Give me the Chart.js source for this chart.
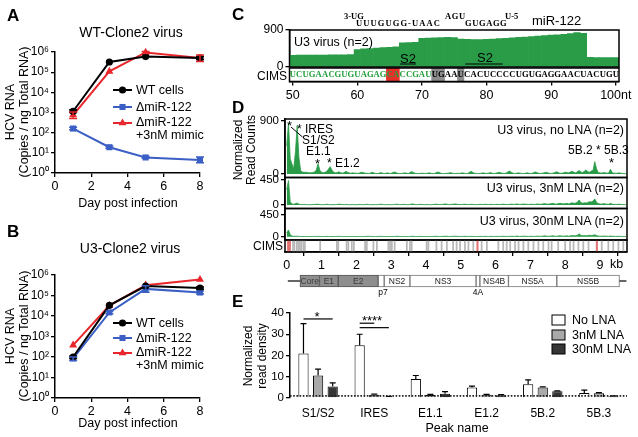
<!DOCTYPE html>
<html><head><meta charset="utf-8">
<script src="https://cdn.jsdelivr.net/npm/chart.js@4.4.1/dist/chart.umd.min.js"></script>
<style>
html,body{margin:0;padding:0;background:#fff}
body{position:relative;width:638px;height:437px;overflow:hidden;font-family:"Liberation Sans",Arial,Helvetica,sans-serif}
canvas{position:absolute;left:0;top:0}
.t{position:absolute;white-space:nowrap;line-height:1;color:#000}
</style></head><body>
<script>
// ================= DATA =================
// Panels A / B : HCV RNA (copies / ng total RNA) vs day post infection
const days = [1, 3, 5, 8];
const dayTicks = [0, 2, 4, 6, 8];
const logTickVals = [1, 10, 100, 1000, 10000, 100000, 1000000];
const logTickLabels = ['10⁰', '10¹', '10²', '10³', '10⁴', '10⁵', '10⁶'];
const seriesNames = ['WT cells', 'ΔmiR-122', 'ΔmiR-122', '+3nM mimic'];

const wtClone2_WT    = [1150, 320000, 590000, 500000];
const wtClone2_dMiR  = [160, 19, 5.9, 4.4];
const wtClone2_mimic = [750, 110000, 950000, 500000];
const wtClone2_WT_err    = [[1000, 1350], null, null, [420000, 600000]];
const wtClone2_dMiR_err  = [[140, 185], [17, 22], [5.4, 6.5], [3.2, 6.2]];
const wtClone2_mimic_err = [[500, 1050], null, [850000, 1050000], [340000, 720000]];

const u3Clone2_WT    = [100, 33000, 290000, 230000];
const u3Clone2_dMiR  = [85, 15000, 210000, 140000];
const u3Clone2_mimic = [380, 32000, 320000, 600000];
const u3Clone2_WT_err    = [[85, 110], null, null, [200000, 260000]];
const u3Clone2_dMiR_err  = [[68, 100], [13000, 17500], [145000, 300000], [120000, 165000]];
const u3Clone2_mimic_err = [null, null, null, null];

// Panel C : read coverage over nt 50-100 and CIMS sequence
const cNt = [50,51,52,53,54,55,56,57,58,59,60,61,62,63,64,65,66,67,68,69,70,71,72,73,74,75,76,77,78,79,80,81,82,83,84,85,86,87,88,89,90,91,92,93,94,95,96,97,98,99,100];
const cCoverage = [285,287,288,290,290,292,294,296,298,300,
                   425,440,450,460,470,480,490,585,592,600,
                   700,705,712,718,720,716,680,672,668,670,
                   675,682,690,700,710,720,730,740,752,765,
                   775,785,795,810,840,820,235,230,228,228,228];
const cSeq = 'UCUGAACGUGUAGAGCACCGAUUGAAUCACUCCCCUGUGAGGAACUACUGU';
const cRedBoxes = [[64.5, 66.5]];
const cGrayBoxes = [[71.5, 73.5], [75.5, 76.5]];
const cTickVals = [50, 60, 70, 80, 90, 100];
const cTickLabels = ['50', '60', '70', '80', '90', '100nt'];
const cYTicks = [0, 900];

// Panel D : normalized read counts along the genome, 0.05 kb bins from 0 kb
const BIN_KB = 0.05;
const trackNoLNA = [
 480,870,260,170,90,380,820,280,55,35,28,32,24,20,22,26,35,70,175,65,
 30,22,28,45,85,125,65,28,20,24,40,22,15,24,45,30,18,14,20,15,
 15,10,20,30,25,15,12,10,15,30,20,10,8,12,25,15,10,12,20,10,
 12,25,35,20,10,8,10,15,20,12,10,30,40,20,12,10,8,12,15,10,
 10,15,20,12,8,10,25,35,20,10,8,10,12,15,25,15,10,8,12,10,
 15,20,12,8,10,30,45,25,12,10,8,10,15,20,12,10,15,25,15,10,
 12,20,30,20,12,10,15,35,50,30,15,10,12,20,15,10,8,12,20,15,
 10,12,25,35,20,12,10,15,20,30,20,12,10,15,25,40,25,15,12,20,
 30,25,20,35,45,30,20,40,60,35,25,45,70,40,30,50,60,210,90,25,
 20,15,25,20,15,18,80,25,15,12,15,20,12,10,8,5];
const track3nM = [
 280,440,60,20,12,25,35,15,8,6,8,10,6,5,6,8,10,12,15,8,
 6,5,8,12,10,6,5,8,6,10,15,12,8,6,10,8,5,6,8,5,
 5,8,10,6,5,8,12,10,6,5,8,6,5,10,15,10,6,5,8,6,
 5,6,10,15,10,6,8,12,8,5,6,10,20,15,8,6,10,12,8,6,
 8,10,6,5,8,12,15,10,8,10,12,20,15,10,8,12,15,20,12,10,
 8,10,15,12,8,10,12,10,8,6,8,12,10,8,15,10,8,12,10,8,
 10,12,8,10,15,12,10,8,12,15,12,10,20,15,10,12,18,15,12,10,
 12,15,10,12,20,15,12,18,25,20,15,20,25,30,20,15,25,30,25,20,
 25,30,20,30,40,30,35,50,90,45,30,40,35,45,60,55,70,110,50,25,
 20,15,25,20,15,12,30,15,12,10,12,15,10,8,6,5];
const track30nM = [
 80,140,40,15,8,10,12,6,5,4,5,6,5,4,3,5,6,5,8,5,
 4,3,5,8,6,4,3,5,4,6,8,6,4,3,5,4,3,5,6,4,
 3,5,6,4,3,5,8,10,6,4,5,4,3,6,10,6,4,3,5,4,
 3,4,6,10,8,5,4,6,5,3,4,6,10,8,5,4,6,8,5,4,
 5,6,4,3,5,8,10,6,5,6,8,12,10,6,5,8,10,12,8,6,
 5,6,10,8,5,6,8,6,5,4,5,8,6,5,10,6,5,8,6,5,
 6,8,5,6,10,8,6,5,8,10,8,6,15,10,6,8,12,10,8,6,
 8,10,6,8,12,10,8,12,18,15,10,12,15,20,12,10,15,20,15,12,
 15,20,12,18,25,20,22,30,60,30,20,25,20,25,30,25,30,40,25,15,
 12,10,15,12,10,8,15,10,8,6,8,10,6,5,4,3];
const cimsGrayKb = [0.18,0.22,0.29,0.33,0.38,0.42,0.48,0.52,0.96,1.44,1.48,1.72,1.77,1.87,1.93,2.25,2.30,2.49,2.59,2.92,2.97,3.02,3.10,3.45,3.54,3.59,4.02,4.07,4.30,4.45,4.60,4.78,4.88,4.98,5.12,5.22,5.36,5.60,5.75,6.08,6.22,6.32,6.42,6.56,6.66,6.80,6.94,7.09,7.23,7.37,7.52,7.61,7.80,8.00,8.14,8.24,8.38,8.52,8.67,9.05,9.24,9.38,9.53,9.67];
const cimsRedKb = [0.04, 0.09, 5.48, 8.91];
const kbTicks = [0,1,2,3,4,5,6,7,8,9];
const genes      = ['Core','E1','E2','p7','NS2','NS3','4A','NS4B','NS5A','NS5B'];
const geneStart  = [0.38, 0.94, 1.48, 2.63, 2.80, 3.54, 5.44, 5.55, 6.37, 7.76];
const geneEnd    = [0.94, 1.48, 2.63, 2.80, 3.54, 5.44, 5.55, 6.37, 7.76, 9.56];
const genomeSpan = [0.04, 9.75];

// Panel E : normalized read density per peak
const peakNames = ['S1/S2','IRES','E1.1','E1.2','5B.2','5B.3'];
const lnaNames  = ['No LNA','3nM LNA','30nM LNA'];
const densNoLNA = [21, 24.8, 9, 5, 6.5, 2.3];
const dens3nM   = [10.6, 1.5, 1.4, 1.5, 5, 2.2];
const dens30nM  = [5.4, 0.6, 2.0, 1.3, 3.2, 0.8];
const errNoLNA  = [35, 30, 10.6, 5.6, 8.5, 3.7];
const err3nM    = [13.6, 1.8, 1.7, 1.7, 5.2, 2.5];
const err30nM   = [7.1, 0.8, 3.0, 1.6, 3.4, 1.0];
const eYTicks   = [0, 10, 20, 30, 40];
const sigLevels = [37.2, 35.2, 33.1];

// ================= RENDERING =================
const W = 638, H = 437;
const FONT = '"Liberation Sans", Arial, Helvetica, sans-serif';
const SERIF = '"Liberation Serif", "Times New Roman", serif';
const GREEN = '#2a9c48';
Chart.defaults.font.family = FONT;
Chart.defaults.color = '#000';

function newCtx() {
  const c = document.createElement('canvas');
  c.width = W; c.height = H; c.style.width = W + 'px'; c.style.height = H + 'px';
  document.body.appendChild(c);
  return c.getContext('2d');
}
function baseOpts(l, t, r, b, yW, xH, extra) {
  return Object.assign({
    responsive: false, animation: false, devicePixelRatio: 1, events: [],
    layout: { autoPadding: false, padding: { left: l - yW, top: t, right: W - r, bottom: H - b - xH } },
    plugins: { legend: { display: false }, tooltip: { enabled: false } }
  }, extra || {});
}
function axis(size, extra) {
  return Object.assign({
    grid: { display: true, drawOnChartArea: false, drawTicks: true, tickLength: 4, color: '#000', lineWidth: 1.3 },
    border: { display: true, color: '#000', width: 1.5 },
    ticks: { color: '#000', font: { size: size }, padding: 2, maxRotation: 0, autoSkip: false }
  }, extra || {});
}
function setTicks(vals) { return s => { s.ticks = vals.map(v => ({ value: v })); }; }

const framePlugin = { id: 'frame', afterDraw(chart) {
  const a = chart.chartArea, c = chart.ctx;
  c.save(); c.strokeStyle = '#000'; c.lineWidth = 1.5;
  c.strokeRect(a.left, a.top, a.right - a.left, a.bottom - a.top); c.restore();
}};

function T(txt, x, y, o) {
  o = o || {};
  const d = document.createElement('div');
  d.className = 't'; d.textContent = txt;
  const s = d.style;
  s.left = x + 'px'; s.top = y + 'px';
  s.fontSize = (o.size || 12) + 'px';
  if (o.bold) s.fontWeight = 'bold';
  if (o.family) s.fontFamily = o.family;
  if (o.color) s.color = o.color;
  if (o.ls) s.letterSpacing = o.ls + 'px';
  if (o.under) { s.textDecoration = 'underline'; }
  const ax = o.align === 'center' ? '-50%' : o.align === 'right' ? '-100%' : '0';
  s.transform = o.rot ? 'translate(-50%,-50%) rotate(' + o.rot + 'deg)' : 'translate(' + ax + ',-50%)';
  document.body.appendChild(d);
  return d;
}

// ---------- Panels A & B ----------
const lineStyles = [
  { color: '#000000', style: 'circle', r: 3.6 },
  { color: '#3b5fc4', style: 'rect', r: 4.3 },
  { color: '#e8262b', style: 'triangle', r: 4.6 }
];
function drawMarker(c, style, x, y, r) {
  c.beginPath();
  if (style === 'circle') c.arc(x, y, r, 0, Math.PI * 2);
  else if (style === 'rect') { const s = r * Math.SQRT1_2; c.rect(x - s, y - s, 2 * s, 2 * s); }
  else { c.moveTo(x, y - r); c.lineTo(x + r * 0.866, y + r * 0.5); c.lineTo(x - r * 0.866, y + r * 0.5); c.closePath(); }
  c.fill();
}
const errPlugin = { id: 'err', afterDatasetsDraw(chart) {
  const c = chart.ctx, ys = chart.scales.y;
  chart.data.datasets.forEach((ds, di) => {
    if (!ds.err) return;
    const meta = chart.getDatasetMeta(di);
    c.save(); c.strokeStyle = ds.borderColor; c.lineWidth = 1.5;
    meta.data.forEach((p, i) => {
      const e = ds.err[i]; if (!e) return;
      const y1 = ys.getPixelForValue(e[0]), y2 = ys.getPixelForValue(e[1]);
      c.beginPath(); c.moveTo(p.x, y1); c.lineTo(p.x, y2);
      c.moveTo(p.x - 4, y1); c.lineTo(p.x + 4, y1);
      c.moveTo(p.x - 4, y2); c.lineTo(p.x + 4, y2); c.stroke();
    });
    c.restore();
  });
}};
function legendPlugin(rowsY) { return { id: 'mleg', afterDraw(chart) {
  const c = chart.ctx;
  lineStyles.forEach((st, k) => {
    const y = rowsY[k];
    c.save(); c.strokeStyle = st.color; c.fillStyle = st.color; c.lineWidth = 2;
    c.beginPath(); c.moveTo(113, y); c.lineTo(132, y); c.stroke();
    drawMarker(c, st.style, 122.5, y, st.r); c.restore();
  });
}}; }
function growth(box, vals, errs, rowsY) {
  new Chart(newCtx(), {
    type: 'line',
    data: { datasets: vals.map((v, k) => ({
      data: days.map((d, i) => ({ x: d, y: v[i] })), err: errs[k],
      borderColor: lineStyles[k].color, backgroundColor: lineStyles[k].color,
      pointStyle: lineStyles[k].style, pointRadius: lineStyles[k].r, pointBorderWidth: 0,
      borderWidth: 2, tension: 0, clip: false
    })) },
    options: Object.assign(baseOpts(box.l, box.t, box.r, box.b, 48, 24), {
      scales: {
        x: axis(12.5, { type: 'linear', min: 0, max: 8, offset: false, afterBuildTicks: setTicks(dayTicks), afterFit: s => { s.height = 24; } }),
        y: Object.assign(axis(12, { type: 'logarithmic', min: 1, max: 1e6, afterBuildTicks: setTicks(logTickVals), afterFit: s => { s.width = 48; } }),
          { ticks: { color: '#000', font: { size: 12 }, padding: 2, autoSkip: false, callback: (v, i) => logTickLabels[i] } })
      }
    }),
    plugins: [errPlugin, legendPlugin(rowsY)]
  });
}
growth({ l: 55, t: 52, r: 200, b: 173 }, [wtClone2_WT, wtClone2_dMiR, wtClone2_mimic],
       [wtClone2_WT_err, wtClone2_dMiR_err, wtClone2_mimic_err], [90, 107, 123]);
growth({ l: 55, t: 275, r: 200, b: 398 }, [u3Clone2_WT, u3Clone2_dMiR, u3Clone2_mimic],
       [u3Clone2_WT_err, u3Clone2_dMiR_err, u3Clone2_mimic_err], [323, 338, 353]);

// ---------- Panel C ----------
const s2LinePlugin = { id: 's2line', afterDatasetsDraw(chart) {
  const c = chart.ctx, xs = chart.scales.x;
  c.save(); c.strokeStyle = '#000'; c.lineWidth = 1.2;
  c.beginPath(); c.moveTo(xs.getPixelForValue(76.7), 64); c.lineTo(xs.getPixelForValue(82.5), 64); c.stroke();
  c.restore();
}};
new Chart(newCtx(), {
  type: 'bar',
  data: { datasets: [{ data: cNt.map((n, i) => ({ x: n, y: cCoverage[i] })), backgroundColor: GREEN, borderWidth: 0, barPercentage: 1, categoryPercentage: 1 }] },
  options: Object.assign(baseOpts(289.5, 30, 619, 67, 30, 0), {
    scales: {
      x: { type: 'linear', min: 49.5, max: 100.5, offset: false, display: false },
      y: axis(12, { min: 0, max: 900, afterBuildTicks: setTicks(cYTicks), afterFit: s => { s.width = 30; } })
    }
  }),
  plugins: [s2LinePlugin, framePlugin]
});
const seqPlugin = { id: 'seq', afterDatasetsDraw(chart) {
  const c = chart.ctx, xs = chart.scales.x, a = chart.chartArea;
  const y = (a.top + a.bottom) / 2 + 0.5;
  c.save(); c.font = 'bold 8.6px ' + SERIF; c.textAlign = 'center'; c.textBaseline = 'middle';
  cSeq.split('').forEach((ch, i) => {
    c.fillStyle = i < 22 ? '#22a03c' : '#000';
    c.fillText(ch, xs.getPixelForValue(cNt[i]), y);
  });
  c.restore();
}};
new Chart(newCtx(), {
  type: 'bar',
  data: { datasets: [
    { data: cRedBoxes.map(b => ({ x: b, y: 0 })), backgroundColor: '#e8302a', barThickness: 13, grouped: false, borderWidth: 0 },
    { data: cGrayBoxes.map(b => ({ x: b, y: 0 })), backgroundColor: '#8c8c8c', barThickness: 13, grouped: false, borderWidth: 0 }
  ] },
  options: Object.assign(baseOpts(289.5, 68, 619, 81.5, 0, 22), {
    indexAxis: 'y',
    scales: {
      x: Object.assign(axis(12.5, { type: 'linear', min: 49.5, max: 100.5, offset: false, afterBuildTicks: setTicks(cTickVals), afterFit: s => { s.height = 22; } }),
        { ticks: { color: '#000', font: { size: 12.5 }, padding: 3, autoSkip: false, maxRotation: 0, callback: (v, i) => cTickLabels[i] } }),
      y: { type: 'linear', min: -1, max: 1, offset: false, display: false }
    }
  }),
  plugins: [seqPlugin, framePlugin]
});

// ---------- Panel D ----------
const D_MIN = -0.05, D_MAX = 9.776;
const annotLine = { id: 'annot', afterDraw(chart) {
  const c = chart.ctx; c.save(); c.strokeStyle = '#000'; c.lineWidth = 1;
  c.beginPath(); c.moveTo(291, 127); c.lineTo(302.5, 137); c.stroke(); c.restore();
}};
function track(values, t, b, yMin, yMax, topTick, extraPlugins) {
  new Chart(newCtx(), {
    type: 'line',
    data: { datasets: [{ data: values.map((v, i) => ({ x: i * BIN_KB, y: v })), borderColor: GREEN, backgroundColor: GREEN, borderWidth: 0.8, pointRadius: 0, fill: 'origin', tension: 0 }] },
    options: Object.assign(baseOpts(285, t, 627, b, 30, 0), {
      scales: {
        x: { type: 'linear', min: D_MIN, max: D_MAX, offset: false, display: false },
        y: axis(11.5, { min: yMin, max: yMax, afterBuildTicks: setTicks([0, topTick]), afterFit: s => { s.width = 30; } })
      }
    }),
    plugins: [framePlugin].concat(extraPlugins || [])
  });
}
track(trackNoLNA, 119, 177.5, -59, 934, 900, [annotLine]);
track(track3nM, 177.5, 208.5, -63, 495, 450);
track(track30nM, 208.5, 240, -68, 585, 450);
new Chart(newCtx(), {
  type: 'bar',
  data: { datasets: [
    { data: cimsGrayKb.map(k => ({ x: k, y: 1 })), backgroundColor: '#b8b8b8', barThickness: 1.1, grouped: false, borderWidth: 0 },
    { data: cimsRedKb.map(k => ({ x: k, y: 1 })), backgroundColor: '#e27272', barThickness: 1.4, grouped: false, borderWidth: 0 }
  ] },
  options: Object.assign(baseOpts(285, 240, 627, 252, 0, 22), {
    scales: {
      x: axis(12.5, { type: 'linear', min: D_MIN, max: D_MAX, offset: false, afterBuildTicks: setTicks(kbTicks), afterFit: s => { s.height = 22; } }),
      y: { type: 'linear', min: 0, max: 1, display: false }
    }
  }),
  plugins: [framePlugin]
});
const geneLabelPlugin = { id: 'glab', afterDatasetsDraw(chart) {
  const c = chart.ctx, xs = chart.scales.x, a = chart.chartArea;
  const y = (a.top + a.bottom) / 2 + 0.5;
  c.save(); c.font = '8.5px ' + FONT; c.textAlign = 'center'; c.textBaseline = 'middle';
  genes.forEach((g, i) => {
    if (g === 'p7' || g === '4A') return;
    c.fillStyle = i < 3 ? '#3a3a3a' : '#222';
    c.fillText(g, (xs.getPixelForValue(geneStart[i]) + xs.getPixelForValue(geneEnd[i])) / 2, y);
  });
  c.restore();
}};
new Chart(newCtx(), {
  type: 'bar',
  data: { datasets: [
    { data: genes.map((g, i) => ({ x: [geneStart[i], geneEnd[i]], y: 0 })),
      backgroundColor: genes.map((g, i) => i < 3 ? '#8e8e8e' : '#ffffff'),
      borderColor: genes.map((g, i) => i < 3 ? '#555' : '#777'), borderWidth: 1, borderSkipped: false,
      barThickness: 12, grouped: false },
    { data: [{ x: genomeSpan, y: 0 }], backgroundColor: '#333', barThickness: 1, grouped: false, borderWidth: 0 }
  ] },
  options: Object.assign(baseOpts(285, 272, 627, 290, 0, 0), {
    indexAxis: 'y',
    scales: {
      x: { type: 'linear', min: D_MIN, max: D_MAX, offset: false, display: false },
      y: { type: 'linear', min: -1, max: 1, offset: false, display: false }
    }
  }),
  plugins: [geneLabelPlugin]
});

// ---------- Panel E ----------
const barErr = { id: 'barErr', afterDatasetsDraw(chart) {
  const c = chart.ctx, ys = chart.scales.y;
  chart.data.datasets.forEach((ds, di) => {
    const meta = chart.getDatasetMeta(di);
    c.save(); c.strokeStyle = '#000'; c.lineWidth = 1.2;
    meta.data.forEach((bar, i) => {
      const y2 = ys.getPixelForValue(ds.err[i]);
      c.beginPath(); c.moveTo(bar.x, bar.y); c.lineTo(bar.x, y2);
      c.moveTo(bar.x - 3, y2); c.lineTo(bar.x + 3, y2); c.stroke();
    });
    c.restore();
  });
  // dotted reference line at 1
  const a = chart.chartArea, y1 = ys.getPixelForValue(1);
  c.save(); c.strokeStyle = '#222'; c.lineWidth = 1.6; c.setLineDash([1.6, 1.6]);
  c.beginPath(); c.moveTo(a.left, y1); c.lineTo(a.right, y1); c.stroke(); c.restore();
  // significance lines
  const m0 = chart.getDatasetMeta(0).data, m1 = chart.getDatasetMeta(1).data, m2 = chart.getDatasetMeta(2).data;
  c.save(); c.strokeStyle = '#000'; c.lineWidth = 1.2;
  const line = (x1, x2, v) => { const y = ys.getPixelForValue(v); c.beginPath(); c.moveTo(x1, y); c.lineTo(x2, y); c.stroke(); };
  line(m0[0].x, m2[0].x, sigLevels[0]);
  line(m0[1].x, m1[1].x, sigLevels[1]);
  line(m0[1].x, m2[1].x, sigLevels[2]);
  c.restore();
  // legend swatches
  const fills = ['#ffffff', '#a9a9a9', '#353535'], rows = [320, 335, 349];
  c.save(); c.strokeStyle = '#000'; c.lineWidth = 1;
  fills.forEach((f, k) => { c.fillStyle = f; c.fillRect(552, rows[k] - 5, 13, 10); c.strokeRect(552, rows[k] - 5, 13, 10); });
  c.restore();
}};
const eFill = ['#ffffff', '#a9a9a9', '#353535'];
new Chart(newCtx(), {
  type: 'bar',
  data: { labels: peakNames, datasets: [densNoLNA, dens3nM, dens30nM].map((d, k) => ({
    data: d, err: [errNoLNA, err3nM, err30nM][k], backgroundColor: eFill[k], borderColor: '#000', borderWidth: 1,
    categoryPercentage: 0.78, barPercentage: 0.7
  })) },
  options: Object.assign(baseOpts(290, 313, 627, 398, 30, 22), {
    scales: {
      x: { grid: { display: false, drawTicks: false }, border: { display: false }, ticks: { color: '#000', font: { size: 12 }, padding: 8, maxRotation: 0 }, afterFit: s => { s.height = 22; } },
      y: axis(11.5, { min: 0, max: 40, afterBuildTicks: setTicks(eYTicks), afterFit: s => { s.width = 30; } })
    }
  }),
  plugins: [barErr]
});

// ================= TEXT =================
// letters
T('A', 7, 15, { size: 17, bold: true });
T('B', 7, 231, { size: 17, bold: true });
T('C', 232, 14, { size: 17, bold: true });
T('D', 232, 107, { size: 17, bold: true });
T('E', 232, 301, { size: 17, bold: true });
// A
T('WT-Clone2 virus', 131, 32, { size: 14, align: 'center' });
T('HCV RNA', 10, 112, { size: 12.5, rot: -90 });
T('(Copies / ng Total RNA)', 24, 112, { size: 12.5, rot: -90 });
T('Day post infection', 128, 203, { size: 12.5, align: 'center' });
T(seriesNames[0], 136, 90, { size: 12.5 });
T(seriesNames[1], 136, 107, { size: 12.5 });
T(seriesNames[2], 136, 122, { size: 12.5 });
T(seriesNames[3], 136, 135, { size: 12.5 });
// B
T('U3-Clone2 virus', 130, 248, { size: 14, align: 'center' });
T('HCV RNA', 10, 336, { size: 12.5, rot: -90 });
T('(Copies / ng Total RNA)', 24, 336, { size: 12.5, rot: -90 });
T('Day post infection', 128, 423, { size: 12.5, align: 'center' });
T(seriesNames[0], 136, 323, { size: 12.5 });
T(seriesNames[1], 136, 338, { size: 12.5 });
T(seriesNames[2], 136, 352, { size: 12.5 });
T(seriesNames[3], 136, 365, { size: 12.5 });
// C
T('3-UG', 344, 16, { size: 8.5, bold: true, family: SERIF });
T('UUUGUGG-UAAC', 356, 23, { size: 8.5, bold: true, family: SERIF, ls: 1.1 });
T('AGU', 445, 16, { size: 8.5, bold: true, family: SERIF, ls: 0.6 });
T('GUGAGG', 465, 23, { size: 8.5, bold: true, family: SERIF, ls: 0.6 });
T('U-5', 505, 16, { size: 8.5, bold: true, family: SERIF });
T('miR-122', 532, 20, { size: 13 });
T('U3 virus (n=2)', 294, 42, { size: 12.5 });
T('S2', 408, 58, { size: 13, align: 'center', under: true });
T('S2', 485, 57, { size: 13, align: 'center' });
T('CIMS', 287, 76, { size: 12, align: 'right' });
// D
T('Normalized', 238, 150, { size: 12, rot: -90 });
T('Read Counts', 251, 150, { size: 12, rot: -90 });
T('U3 virus, no LNA (n=2)', 624, 130, { size: 12.5, align: 'right' });
T('U3 virus, 3nM LNA (n=2)', 624, 188, { size: 12.5, align: 'right' });
T('U3 virus, 30nM LNA (n=2)', 624, 221, { size: 12.5, align: 'right' });
T('*', 287, 125, { size: 13 });
T('* IRES', 297, 129, { size: 12 });
T('S1/S2', 302, 140, { size: 12 });
T('E1.1', 306, 151, { size: 12 });
T('*', 315, 163, { size: 13 });
T('* E1.2', 327, 163, { size: 12 });
T('5B.2 * 5B.3', 568, 150, { size: 12 });
T('*', 609, 162, { size: 13 });
T('CIMS', 283, 246, { size: 12, align: 'right' });
T('kb', 610, 264, { size: 12.5 });
T('p7', 383, 292, { size: 8.5, align: 'center' });
T('4A', 478, 292, { size: 8.5, align: 'center' });
// E
T('Normalized', 248, 356, { size: 12, rot: -90 });
T('read density', 262, 356, { size: 12, rot: -90 });
T('Peak name', 457, 428, { size: 12.5, align: 'center' });
T(lnaNames[0], 572, 320, { size: 12.5 });
T(lnaNames[1], 572, 335, { size: 12.5 });
T(lnaNames[2], 572, 349, { size: 12.5 });
T('*', 317, 316, { size: 13, align: 'center' });
T('****', 372, 320, { size: 13, align: 'center' });
</script>
</body></html>
